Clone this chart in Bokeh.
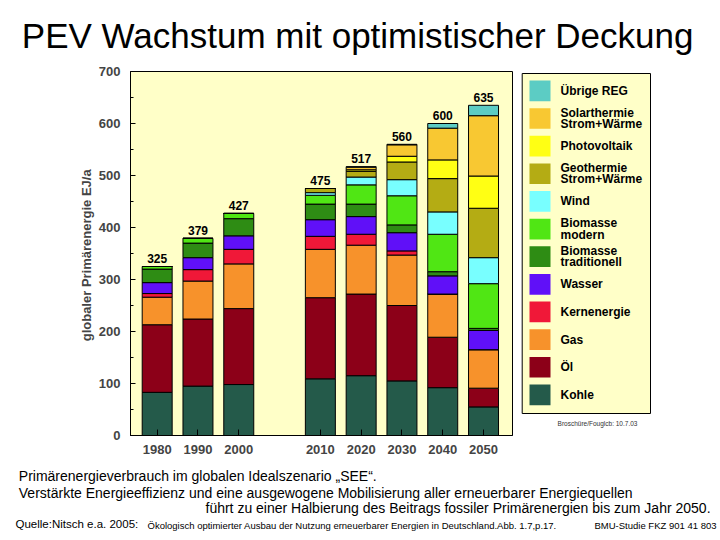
from bokeh.plotting import figure
from bokeh.models import Range1d, FixedTicker, ColumnDataSource
from bokeh.core.properties import value
from bokeh.layouts import column, row
from bokeh.embed import file_html
from bokeh.resources import INLINE

# ---------------- data ----------------
years = ["1980", "1990", "2000", "2010", "2020", "2030", "2040", "2050"]
totals = [325, 379, 427, 475, 517, 560, 600, 635]

kohle        = [83, 95, 98, 109, 115, 105, 92, 55]
oel          = [130, 129, 146, 156, 157, 145, 97, 36]
gas          = [53, 73, 86, 93, 94, 97, 83, 74]
kern         = [7, 22, 28, 25, 21, 8, 0, 0]
wasser       = [21, 23, 26, 32, 34, 35, 35, 37]
bio_trad     = [26, 28, 33, 30, 24, 15, 8, 4]
bio_modern   = [5, 9, 10, 17, 37, 56, 72, 86]
wind         = [0, 0, 0, 5, 15, 31, 43, 50]
geothermie   = [0, 0, 0, 8, 11, 34, 64, 95]
photovoltaik = [0, 0, 0, 0, 3, 11, 36, 62]
solarthermie = [0, 0, 0, 0, 5, 22, 61, 116]
uebrige      = [0, 0, 0, 0, 1, 1, 9, 20]

series = [kohle, oel, gas, kern, wasser, bio_trad, bio_modern, wind,
          geothermie, photovoltaik, solarthermie, uebrige]
legend_labels = ["Kohle", "Öl", "Gas", "Kernenergie", "Wasser",
                 "Biomasse\ntraditionell", "Biomasse\nmodern", "Wind",
                 "Geothermie\nStrom+Wärme", "Photovoltaik",
                 "Solarthermie\nStrom+Wärme", "Übrige REG"]
colors = ["#245A4A", "#8C0018", "#F7922B", "#F01838", "#6010F8", "#2E8C14",
          "#50E614", "#78FFFF", "#B4AC14", "#FFFF14", "#F8C832", "#5CCCC4"]

y_ticks = [0, 100, 200, 300, 400, 500, 600, 700]
y_minor = [50, 150, 250, 350, 450, 550, 650]

title_text = "PEV  Wachstum mit optimistischer Deckung"
y_label = "globaler Primärenergie  EJ/a"
stamp_text = "Broschüre/Fouglcb: 10.7.03"
caption_lines = [
    "Primärenergieverbrauch im globalen Idealszenario „SEE“.",
    "Verstärkte Energieeffizienz und eine ausgewogene Mobilisierung aller erneuerbarer Energiequellen",
    "führt zu einer Halbierung des Beitrags fossiler Primärenergien bis zum Jahr 2050.",
]
source_parts = [
    "Quelle:Nitsch e.a. 2005:",
    "Ökologisch optimierter Ausbau der Nutzung erneuerbarer Energien in Deutschland.Abb. 1.7,p.17.",
    "BMU-Studie FKZ 901 41 803",
]

FONT = "Liberation Sans"
BG = "#FFFFC8"


def blank(width, height, x0, x1, y0, y1, top=0, bottom=0):
    f = figure(width=width, height=height, output_backend="svg", title=None,
               toolbar_location=None, x_range=Range1d(x0, x1),
               y_range=Range1d(y0, y1), x_axis_type=None, y_axis_type=None,
               min_border=0, min_border_left=0, min_border_right=0,
               min_border_top=top, min_border_bottom=bottom,
               outline_line_color=None,
               background_fill_color="white", border_fill_color="white")
    f.grid.visible = False
    return f


# ---------------- title ----------------
t = blank(720, 63, 0, 720, 63, 0)
t.text(x=[362], y=[35], text=[title_text], text_align="center",
       text_baseline="middle", text_font=value(FONT),
       text_font_size="35px", text_color="black")

# ---------------- main chart ----------------
slots = [i + (1 if int(y) >= 2010 else 0) for i, y in enumerate(years)]
keys = ["s%d" % i for i in range(len(series))]
data = {"x": slots, "total": totals, "tlabel": [str(v) for v in totals]}
for k, s in zip(keys, series):
    data[k] = s
source = ColumnDataSource(data)

p = figure(width=517, height=400, output_backend="svg", toolbar_location=None,
           title=None,
           x_range=Range1d(-0.654, 8.71), y_range=Range1d(0, 700),
           min_border_left=130, min_border_right=5, min_border_top=8,
           min_border_bottom=28, background_fill_color=BG,
           border_fill_color="white", outline_line_color="black",
           outline_line_width=1)
p.grid.visible = False

p.vbar_stack(keys, x="x", width=0.735, source=source, fill_color=colors,
             line_color="black", line_width=1)

p.text(x="x", y="total", text="tlabel", source=source, text_align="center",
       text_baseline="middle", y_offset=-8,
       text_font=value(FONT), text_font_style="bold", text_font_size="12px",
       text_color="black")

p.yaxis.ticker = FixedTicker(ticks=y_ticks, minor_ticks=y_minor)
p.yaxis.major_label_text_font = FONT
p.yaxis.major_label_text_font_style = "bold"
p.yaxis.major_label_text_font_size = "13px"
p.yaxis.major_tick_in = 5
p.yaxis.major_tick_out = 0
p.yaxis.minor_tick_in = 3
p.yaxis.minor_tick_out = 0
p.yaxis.major_label_standoff = 10
p.yaxis.axis_label = y_label
p.yaxis.axis_label_text_font = FONT
p.yaxis.axis_label_text_font_style = "bold"
p.yaxis.axis_label_text_font_size = "13px"
p.yaxis.axis_label_standoff = 2
p.yaxis.axis_line_color = "black"

p.xaxis.ticker = FixedTicker(ticks=slots)
p.xaxis.major_label_overrides = {s: y for s, y in zip(slots, years)}
p.xaxis.major_label_text_font = FONT
p.xaxis.major_label_text_font_style = "bold"
p.xaxis.major_label_text_font_size = "13px"
p.xaxis.major_tick_in = 6
p.xaxis.major_tick_out = 0
p.xaxis.minor_tick_line_color = None
p.xaxis.major_label_standoff = 9
p.xaxis.axis_line_color = "black"

# ---------------- legend (same frame rows as the chart) ----------------
lg = blank(203, 400, 517, 720, 435, 71, top=8, bottom=28)
lg.quad(left=[521.7], right=[650], top=[73], bottom=[413], fill_color=BG,
        line_color="black", line_width=1)
n = len(series)
order = list(range(n - 1, -1, -1))  # top to bottom
sw_top = [80 + 27.64 * i for i in range(n)]
lg.quad(left=529, right=550, top=sw_top, bottom=[v + 20.7 for v in sw_top],
        fill_color=[colors[j] for j in order], line_color=None)
lx, ly, lt = [], [], []
for i, j in enumerate(order):
    cy = sw_top[i] + 10.35
    lines = legend_labels[j].split("\n")
    offs = [0] if len(lines) == 1 else [-5.6, 5.6]
    for ln, off in zip(lines, offs):
        lx.append(560)
        ly.append(cy + off)
        lt.append(ln)
lg.text(x=lx, y=ly, text=lt, text_align="left", text_baseline="middle",
        text_font=value(FONT), text_font_style="bold", text_font_size="12px",
        text_color="black")
lg.text(x=[597], y=[423], text=[stamp_text], text_align="center",
        text_baseline="middle", text_font=value(FONT), text_font_size="6.5px",
        text_color="#333333")

# ---------------- captions ----------------
c = blank(720, 77, 0, 720, 540, 463)
c.text(x=[18.3, 18.3, 205], y=[475, 492.5, 507], text=caption_lines,
       text_align="left", text_baseline="middle", text_font=value(FONT),
       text_font_size="14px", text_color="black")
c.text(x=[15], y=[523.7], text=[source_parts[0]], text_align="left",
       text_baseline="middle", text_font=value(FONT),
       text_font_size="11.5px", text_color="black")
c.text(x=[147, 594], y=[525.3, 525.3], text=source_parts[1:], text_align="left",
       text_baseline="middle", text_font=value(FONT),
       text_font_size="9.5px", text_color="black")

layout = column(t, row(p, lg), c)
open("out.html", "w").write(file_html(layout, INLINE))
